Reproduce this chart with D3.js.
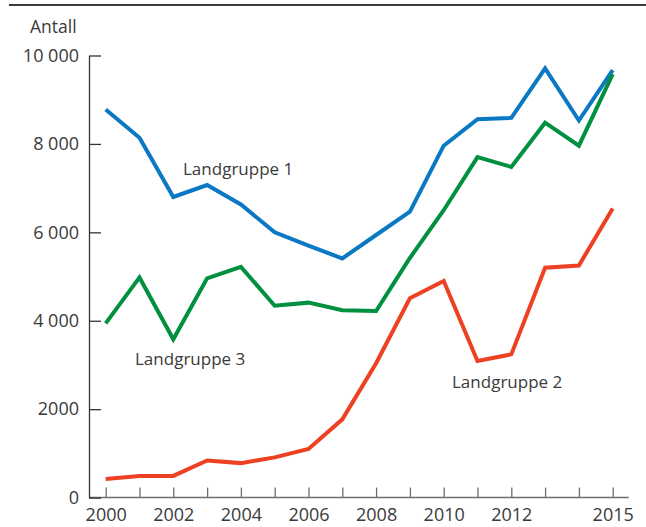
<!DOCTYPE html>
<html>
<head>
<meta charset="utf-8">
<script src="https://cdn.jsdelivr.net/npm/d3@7"></script>
<style>
  body { margin: 0; background: #fff; }
  svg text { font-family: "Open Sans", sans-serif; fill: #3a3a3a; }
</style>
</head>
<body>
<div id="chart"></div>
<script>
// data
var years = [2000, 2001, 2002, 2003, 2004, 2005, 2006, 2007, 2008, 2009, 2010, 2011, 2012, 2013, 2014, 2015];
var gruppe1 = [8780, 8140, 6800, 7070, 6630, 6000, 5700, 5410, 5940, 6470, 7960, 8560, 8590, 9710, 8530, 9670];
var gruppe2 = [420, 490, 490, 840, 780, 910, 1100, 1770, 3040, 4510, 4900, 3090, 3240, 5200, 5250, 6540];
var gruppe3 = [3940, 4980, 3580, 4960, 5220, 4340, 4410, 4240, 4220, 5420, 6500, 7700, 7480, 8480, 7960, 9580];
var yTicks = [0, 2000, 4000, 6000, 8000, 10000];
var yTickLabels = ['0', '2000', '4 000', '6 000', '8 000', '10 000'];
var xTickLabels = [2000, 2002, 2004, 2006, 2008, 2010, 2012, 2015];

var series = [
  { name: 'Landgruppe 1', values: gruppe1, color: '#0a78c2', lx: 183, ly: 175 },
  { name: 'Landgruppe 3', values: gruppe3, color: '#00903f', lx: 135, ly: 365 },
  { name: 'Landgruppe 2', values: gruppe2, color: '#ee4123', lx: 452, ly: 388 }
];

var w = 646, h = 527;
var axisX = 89; // left axis position

var x = d3.scaleLinear().domain([2000, 2015]).range([105.7, 612.7]);
var y = d3.scaleLinear().domain([0, 10000]).range([497.6, 55.5]);

var svg = d3.select('#chart').append('svg')
  .attr('width', w)
  .attr('height', h);

// rule at the top
svg.append('line')
  .attr('x1', 9).attr('x2', w)
  .attr('y1', 5).attr('y2', 5)
  .attr('stroke', '#3c3c3c')
  .attr('stroke-width', 2);

// axis title
svg.append('text')
  .text('Antall')
  .attr('x', 30)
  .attr('y', 33)
  .style('font-size', '17.5px');

// x axis (grey)
var xAxis = d3.axisBottom(x)
  .tickValues(years)
  .tickSize(-10)
  .tickPadding(11)
  .tickFormat(function(d) { return xTickLabels.indexOf(d) > -1 ? d : ''; });

var gx = svg.append('g')
  .attr('transform', 'translate(0,' + y(0) + ')')
  .call(xAxis);
gx.select('.domain').remove();
gx.selectAll('line').attr('stroke', '#6e6e6e').attr('stroke-width', 1.3);
gx.selectAll('text').style('font-size', '18px').attr('fill', '#3a3a3a').style('font-family', null);
gx.append('line')
  .attr('x1', axisX).attr('x2', x(2015) + 16)
  .attr('y1', 0).attr('y2', 0)
  .attr('stroke', '#6e6e6e')
  .attr('stroke-width', 1.5);

// y axis (dark)
var yAxis = d3.axisLeft(y)
  .tickValues(yTicks)
  .tickSize(-12)
  .tickSizeOuter(0)
  .tickPadding(10)
  .tickFormat(function(d, i) { return yTickLabels[i]; });

var gy = svg.append('g')
  .attr('transform', 'translate(' + axisX + ',0)')
  .call(yAxis);
gy.select('.domain').attr('stroke', '#333').attr('stroke-width', 1.3);
gy.selectAll('line').attr('stroke', '#333').attr('stroke-width', 1.3);
gy.selectAll('text').style('font-size', '18px').attr('fill', '#3a3a3a').style('font-family', null);

// lines
var line = d3.line()
  .x(function(d, i) { return x(years[i]); })
  .y(function(d) { return y(d); });

series.forEach(function(s) {
  svg.append('path')
    .datum(s.values)
    .attr('d', line)
    .attr('fill', 'none')
    .attr('stroke', s.color)
    .attr('stroke-width', 4)
    .attr('stroke-linejoin', 'miter');

  svg.append('text')
    .text(s.name)
    .attr('x', s.lx)
    .attr('y', s.ly)
    .style('font-size', '17px');
});
</script>
</body>
</html>
